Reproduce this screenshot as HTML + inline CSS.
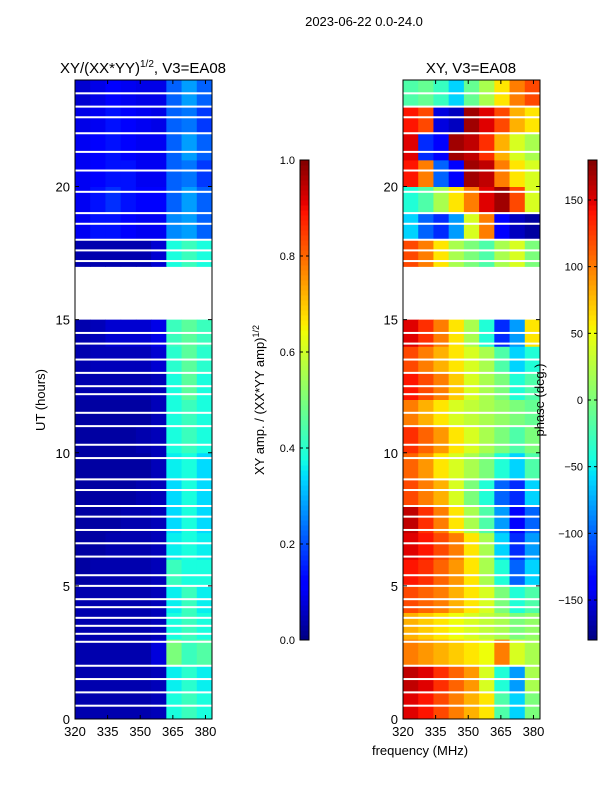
<!DOCTYPE html>
<html><head><meta charset="utf-8">
<style>
body{margin:0;background:#fff;font-family:"Liberation Sans",sans-serif;}
svg text{font-family:"Liberation Sans",sans-serif;fill:#000;}
</style></head>
<body>
<svg id="fig" width="600" height="800" xmlns="http://www.w3.org/2000/svg">
<rect width="600" height="800" fill="#fff"/>
<text x="364" y="26" font-size="13" text-anchor="middle">2023-06-22 0.0-24.0</text>
<text x="143" y="73" font-size="15" text-anchor="middle">XY/(XX*YY)<tspan font-size="10" dy="-6">1/2</tspan><tspan dy="6">, V3=EA08</tspan></text>
<text x="471" y="73" font-size="15" text-anchor="middle">XY, V3=EA08</text>
<text x="420" y="755" font-size="13" text-anchor="middle">frequency (MHz)</text>
<text transform="translate(45,400) rotate(-90)" font-size="13" text-anchor="middle">UT (hours)</text>
<text transform="translate(264,400) rotate(-90)" font-size="13" text-anchor="middle">XY amp. / (XX*YY amp)<tspan font-size="9" dy="-5">1/2</tspan></text>
<g id="g"></g>
<text transform="translate(544,400) rotate(-90)" font-size="13" text-anchor="middle">phase (deg.)</text>
</svg>
<script>
const freqEdges=[320,327,334,341,348,355,362,369,376,383];
const hours=[0,1,2,3,4,5,6,7,8,9,10,11,12,13,14,15,16,17,18,19,20,21,22,23];
const ampRows=[
[0.04,0.04,0.04,0.04,0.04,0.05,0.38,0.42,0.38],
[0.04,0.04,0.04,0.04,0.04,0.05,0.36,0.4,0.36],
[0.04,0.04,0.04,0.04,0.04,0.08,0.5,0.42,0.45],
[0.04,0.04,0.04,0.04,0.04,0.05,0.38,0.42,0.38],
[0.04,0.04,0.04,0.04,0.04,0.05,0.36,0.42,0.36],
[0.03,0.04,0.04,0.04,0.04,0.05,0.42,0.38,0.38],
[0.03,0.03,0.04,0.04,0.04,0.05,0.36,0.38,0.36],
[0.03,0.03,0.03,0.04,0.04,0.05,0.34,0.38,0.34],
[0.03,0.03,0.03,0.03,0.04,0.05,0.34,0.38,0.34],
[0.03,0.03,0.03,0.03,0.03,0.05,0.36,0.38,0.34],
[0.03,0.03,0.03,0.03,0.04,0.05,0.38,0.42,0.38],
[0.03,0.03,0.03,0.03,0.03,0.05,0.38,0.42,0.38],
[0.04,0.04,0.04,0.04,0.04,0.05,0.38,0.46,0.38],
[0.04,0.05,0.05,0.05,0.05,0.07,0.4,0.46,0.4],
[0.04,0.05,0.07,0.07,0.07,0.09,0.42,0.46,0.42],
null,null,
[0.04,0.04,0.04,0.04,0.04,0.07,0.38,0.42,0.38],
[0.1,0.14,0.14,0.12,0.1,0.1,0.26,0.28,0.22],
[0.1,0.14,0.17,0.14,0.12,0.12,0.22,0.28,0.22],
[0.1,0.12,0.14,0.14,0.1,0.1,0.22,0.24,0.18],
[0.1,0.12,0.14,0.12,0.1,0.1,0.22,0.28,0.22],
[0.09,0.1,0.14,0.12,0.1,0.09,0.22,0.24,0.18],
[0.07,0.09,0.12,0.1,0.09,0.09,0.22,0.28,0.22]];
const phaseRows=[
[150,140,120,100,80,60,-20,-60,0],
[160,150,130,110,90,40,-40,-80,20],
[100,90,80,70,60,50,100,40,20],
[80,70,60,50,40,30,20,0,10],
[120,110,100,80,60,40,0,-40,-20],
[140,130,110,90,60,20,-40,-100,-60],
[150,140,120,100,60,20,-60,-120,-80],
[160,130,100,60,20,-20,-80,-140,-100],
[120,100,80,40,0,-40,-100,-120,-60],
[110,90,60,40,20,0,-40,-60,-20],
[130,110,90,60,40,20,0,-20,0],
[100,80,60,40,30,20,10,0,-10],
[140,120,100,70,40,20,0,-40,-20],
[120,100,80,60,40,20,-20,-60,-40],
[150,130,100,60,20,-40,-120,-80,60],
null,null,
[120,100,60,20,0,-20,20,40,0],
[-60,-100,-120,-80,40,100,-140,-160,-170],
[-40,-20,20,60,100,150,170,120,40],
[140,100,-100,-140,170,160,100,60,40],
[150,-120,-140,170,160,130,80,40,20],
[140,120,-150,-160,170,150,120,80,60],
[-20,-10,-30,-60,-10,20,60,100,120]];
const gapHours=[0.5,1.0,1.5,2.0,2.9,3.2,3.5,3.8,4.2,4.5,5.0,5.4,6.1,6.6,7.1,7.6,8.0,8.6,9.0,9.8,10.3,11.0,11.5,12.2,12.5,13.0,13.5,14.1,14.5,17.2,17.6,18.0,18.6,19.0,19.8,20.6,21.3,22.0,22.6,23.0,23.5];
const xTicks=[320,335,350,365,380];
const yTicks=[0,5,10,15,20];
const ampTicks=[0.0,0.2,0.4,0.6,0.8,1.0];
const phaseTicks=[-150,-100,-50,0,50,100,150];

const NS="http://www.w3.org/2000/svg";
const g=document.getElementById('g');
function el(t,a,p){const e=document.createElementNS(NS,t);for(const k in a)e.setAttribute(k,a[k]);(p||g).appendChild(e);return e;}
function interp(x,pts){for(let i=1;i<pts.length;i++){if(x<=pts[i][0]){const[a,b]=[pts[i-1],pts[i]];return a[1]+(b[1]-a[1])*(x-a[0])/(b[0]-a[0]);}}return pts[pts.length-1][1];}
function jet(v){v=Math.max(0,Math.min(1,v));
const r=interp(v,[[0,0],[0.35,0],[0.66,1],[0.89,1],[1,0.5]]);
const gg=interp(v,[[0,0],[0.125,0],[0.375,1],[0.64,1],[0.91,0],[1,0]]);
const b=interp(v,[[0,0.5],[0.11,1],[0.34,1],[0.65,0],[1,0]]);
return `rgb(${Math.round(r*255)},${Math.round(gg*255)},${Math.round(b*255)})`;}
const T=80,B=719;
const yS=h=>B-(B-T)*h/24;
function panel(name,L,R,rows,norm){
  const xS=f=>L+(R-L)*(f-320)/(383-320);
  const pg=el('g',{});
  
  
  rows.forEach((row,i)=>{ if(!row)return;
    row.forEach((v,j)=>{
      const r=el('rect',{x:xS(freqEdges[j]),y:yS(hours[i]+1),width:xS(freqEdges[j+1])-xS(freqEdges[j])+0.5,height:yS(hours[i])-yS(hours[i]+1)+0.5,fill:jet(norm(v))},pg);
      
      
    });});
  gapHours.forEach(h=>{const r=el('rect',{x:L,y:yS(h)-1,width:R-L,height:2,fill:'#fff'},pg);
    
    });
  const f=el('rect',{x:L,y:T,width:R-L,height:B-T,fill:'none',stroke:'#000','stroke-width':1},pg);
  
  
  xTicks.forEach(t=>{const x=xS(t);
    el('line',{x1:x,x2:x,y1:B,y2:B-4,stroke:'#000'},pg);el('line',{x1:x,x2:x,y1:T,y2:T+4,stroke:'#000'},pg);
    const tx=el('text',{x:x,y:B+17,'font-size':13,'text-anchor':'middle'},pg);tx.textContent=t;
    
    });
  yTicks.forEach(t=>{const y=yS(t);
    el('line',{x1:L,x2:L+4,y1:y,y2:y,stroke:'#000'},pg);el('line',{x1:R,x2:R-4,y1:y,y2:y,stroke:'#000'},pg);
    const tx=el('text',{x:L-5,y:y+5,'font-size':13,'text-anchor':'end'},pg);tx.textContent=t;
    
    });
}
panel('amplitude-heatmap',75,212,ampRows,v=>v);
panel('phase-heatmap',403,540,phaseRows,v=>(v+180)/360);
function cbar(name,L,ticks,lo,hi,fmt){
  const W=9,CT=160,CB=640;
  const cg=el('g',{});
  
  
  for(let i=0;i<96;i++){const v0=i/96;el('rect',{x:L,y:CB-(i+1)*(CB-CT)/96,width:W,height:(CB-CT)/96+0.5,fill:jet(v0+0.005)},cg);}
  el('rect',{x:L,y:CT,width:W,height:CB-CT,fill:'none',stroke:'#000'},cg);
  ticks.forEach(t=>{const y=CB-(CB-CT)*(t-lo)/(hi-lo);
    el('line',{x1:L,x2:L+3,y1:y,y2:y,stroke:'#000'},cg);el('line',{x1:L+W,x2:L+W-3,y1:y,y2:y,stroke:'#000'},cg);
    const tx=el('text',{x:L-5,y:y+4,'font-size':11,'text-anchor':'end'},cg);tx.textContent=fmt(t);
    
    });
}
cbar('amp-colorbar',300,ampTicks,0,1,t=>t.toFixed(1));
cbar('phase-colorbar',588,phaseTicks,-180,180,t=>t<0?'\u2212'+(-t):String(t));
</script>
</body></html>
